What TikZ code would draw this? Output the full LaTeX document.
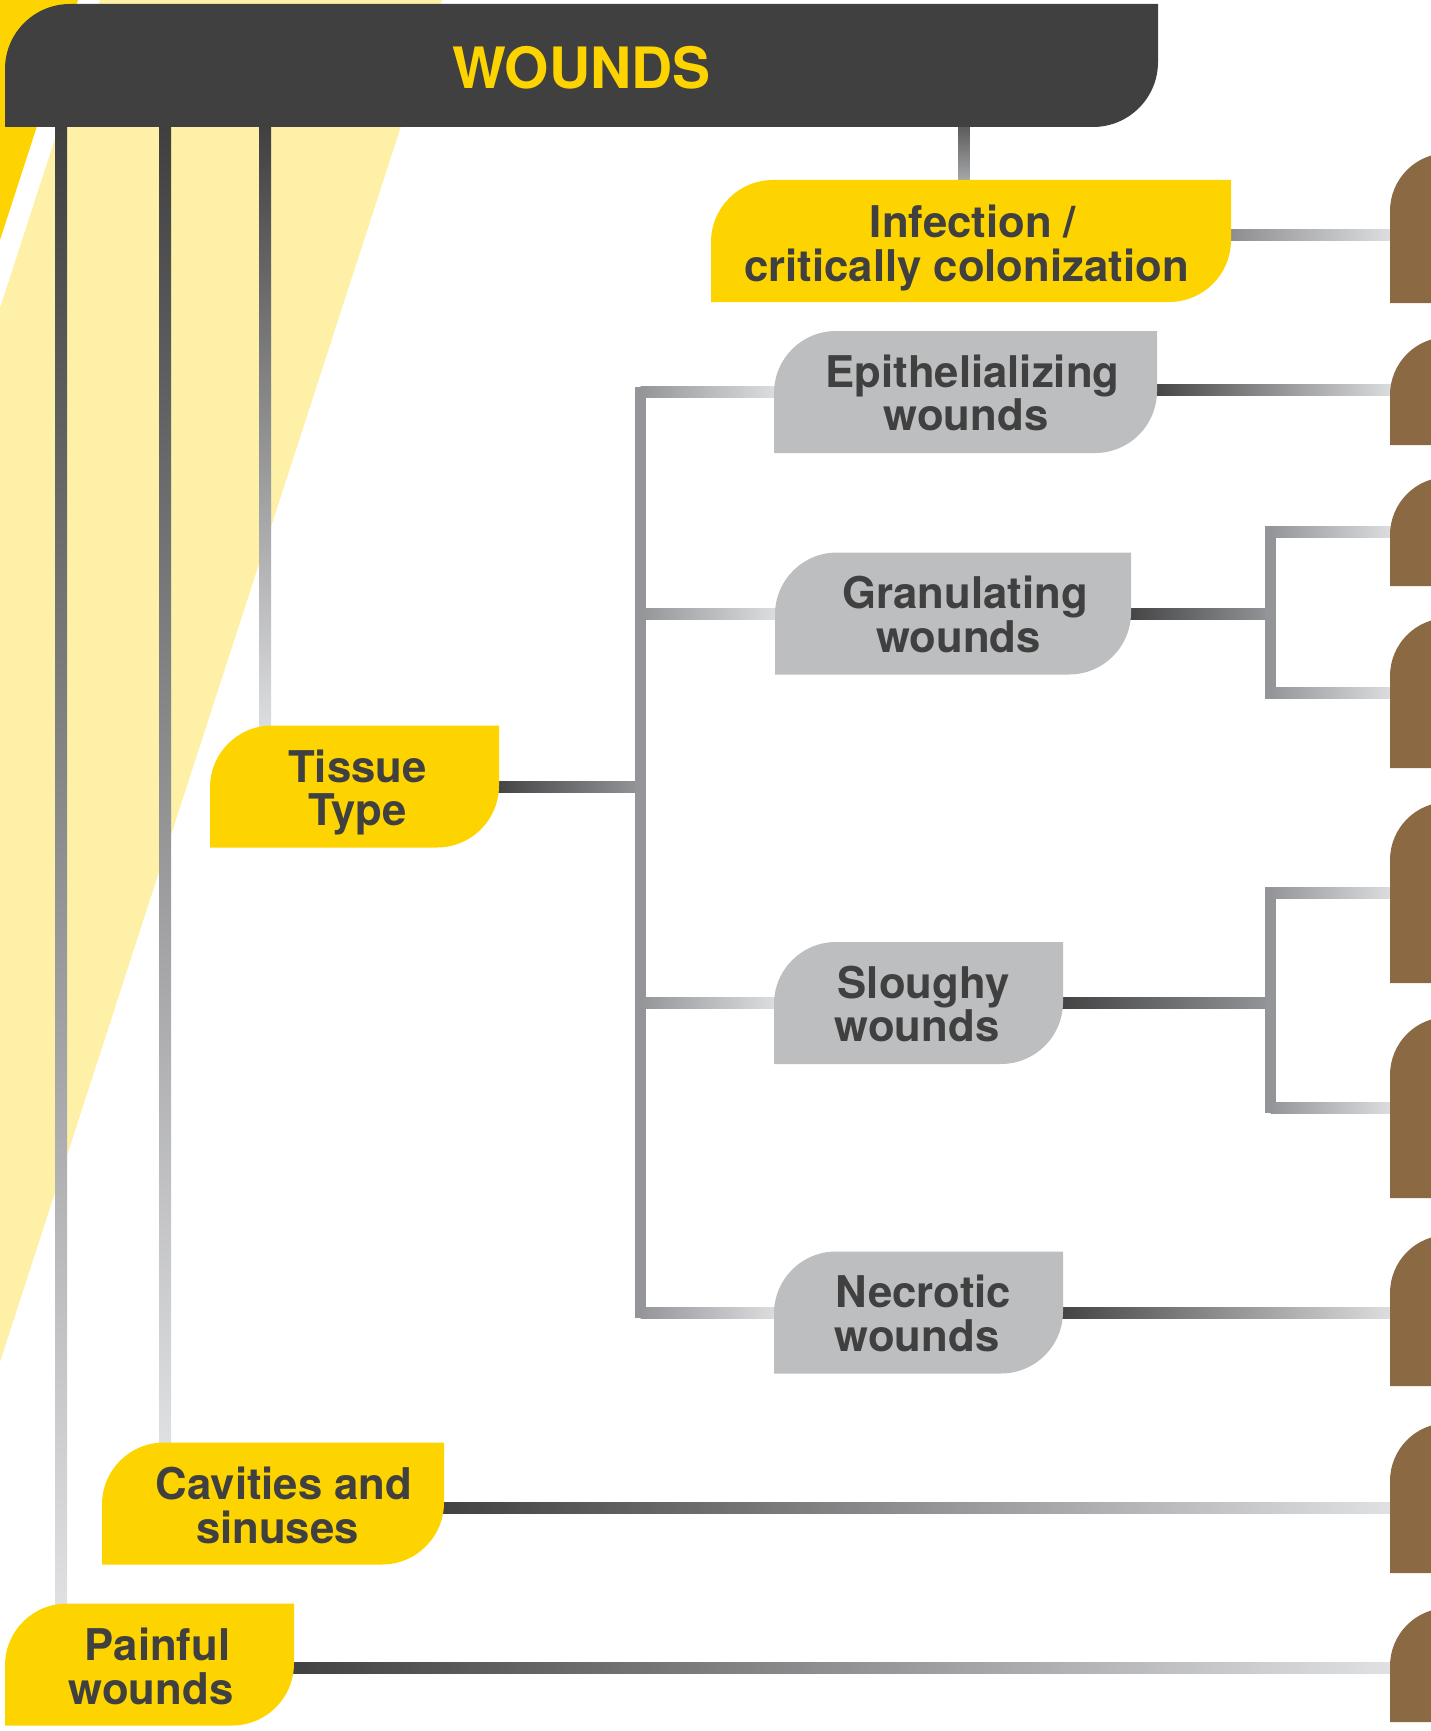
\documentclass[tikz,border=0pt]{standalone}
\usepackage{fontspec}
\setmainfont{TeX Gyre Heros}
\usetikzlibrary{arrows,shapes}
\pgfdeclarelayer{background}
\pgfdeclarelayer{wires}
\pgfdeclarelayer{fills}
\pgfsetlayers{background,wires,fills,main}
\definecolor{wyellow}{HTML}{FDD400}
\definecolor{wpale}{HTML}{FEF0A7}
\definecolor{wdark}{HTML}{404041}
\definecolor{wgray}{HTML}{BCBEC0}
\definecolor{wbrown}{HTML}{8B6943}
\definecolor{wmid}{HTML}{939598}
\definecolor{wlight}{HTML}{E1E2E4}
\tikzstyle{box}=[minimum height=122pt,inner sep=0pt,outer sep=0pt]
\tikzstyle{txt}=[inner sep=0pt,align=center,text=wdark,font=\fontsize{43.7}{43.5}\selectfont\bfseries]
\tikzstyle{tab}=[minimum width=160pt,inner sep=0pt,outer sep=0pt]
\tikzstyle{wire}=[left color=wdark,right color=wlight]
\tikzstyle{twig}=[left color=wmid,right color=wlight]
\tikzstyle{stem}=[left color=wdark,right color=wmid]
\tikzstyle{trunk}=[top color=wdark,bottom color=wlight]
% leaf shaped fill behind a node: name, colour, radius
\newcommand{\leaf}[3]{\fill[#2] (#1.south west) -- ([yshift=-#3]#1.north west)
    arc[start angle=180,end angle=90,radius=#3] -- (#1.north east)
    -- ([yshift=#3]#1.south east) arc[start angle=0,end angle=-90,radius=#3] -- cycle;}
% second lines sit a little to the left
\newcommand{\lft}{\hspace*{13pt}}

\begin{document}
\begin{tikzpicture}[x=1pt,y=-1pt]
    \useasboundingbox (0,0) rectangle (1431,1731);
    % Draw the wounds chart
    % First the yellow bands behind everything
    \begin{pgfonlayer}{background}
        \fill[wpale] (100,0) -- (442,0) -- (0,1362) -- (0,308) -- cycle;
        \fill[wyellow] (0,0) -- (78,0) -- (0,240) -- cycle;
    \end{pgfonlayer}
    % Then the boxes and their texts
    \node[box,minimum width=1153pt,minimum height=123pt] (wounds) at (581.5,65.5) {};
    \node[txt,text=wyellow,font=\fontsize{57}{60}\selectfont\bfseries] at ([yshift=-2pt]wounds) {WOUNDS};
    \foreach \pos/\name/\wide/\dx/\dy/\txt in {{(971,241)/inf/520/2/7/{Infection /\\critically colonization\lft}},
        {(354.5,786.5)/tis/289/3/6/{Tissue\\Type}}, {(273,1503.5)/cav/342/11/2/{Cavities and\\sinuses\lft}},
        {(149.5,1664.5)/pai/289/8/2/{Painful\\wounds\lft}}, {(965.5,392)/epi/383/7/1/{Epithelializing\\wounds\lft}},
        {(953,613.5)/gran/356/12/1/{Granulating\\wounds\lft}}, {(918.5,1003)/slo/289/5/1/{Sloughy\\wounds\lft}},
        {(918.5,1312.5)/nec/289/5/1/{Necrotic\\wounds\lft}}} {
        \node[box,minimum width=\wide] (\name) at \pos {};
        \node[txt] at ([xshift=\dx pt,yshift=-\dy pt]\name) {\txt};
    }
    % Brown tabs on the right edge
    \foreach \mid/\ht/\name in {228/150/t1, 391/108/t2, 531.5/109/t3, 693/150/t4, 892.5/181/t5,
        1107.5/181/t6, 1310.5/151/t7, 1498/150/t8, 1665/114/t9}
        \node[tab,minimum height=\ht] (\name) at (1470,\mid) {};
    \begin{pgfonlayer}{fills}
        \leaf{wounds}{wdark}{65pt}
        \foreach \name in {inf,tis,cav,pai}
            {\leaf{\name}{wyellow}{62pt}}
        \foreach \name in {epi,gran,slo,nec}
            {\leaf{\name}{wgray}{62pt}}
        \foreach \i in {1,...,9}
            {\leaf{t\i}{wbrown}{58pt}}
    \end{pgfonlayer}
    % Connect boxes with the shaded bars
    \begin{pgfonlayer}{wires}
        \coordinate (c1) at (61,0);
        \coordinate (c2) at (165,0);
        \coordinate (c3) at (265,0);
        \coordinate (c4) at (964,0);
        \coordinate (tb) at (640.5,0);
        \coordinate (rb) at (1270.5,0);
        \foreach \c/\b in {c1/pai, c2/cav, c3/tis}
            \shade[trunk] ([xshift=-6pt]wounds.south -| \c) rectangle ([xshift=6pt,yshift=-20pt]\b.north -| \c);
        \shade[top color=wdark!85,bottom color=wmid!70] ([xshift=-5.5pt]wounds.south -| c4) rectangle ([xshift=5.5pt,yshift=-10pt]inf.north -| c4);
        \coordinate (s) at ([yshift=6pt]inf.east);
        \shade[left color=wdark!55!wlight,right color=wlight] ([xshift=-10pt,yshift=5.5pt]s) rectangle ([xshift=10pt,yshift=-5.5pt]s -| t1.west);
        \foreach \a/\b/\dy in {epi/t2/2, nec/t7/0, cav/t8/-4, pai/t9/-3} {
            \coordinate (s) at ([yshift=\dy pt]\a.east);
            \shade[wire] ([xshift=-10pt,yshift=5.5pt]s) rectangle ([xshift=10pt,yshift=-5.5pt]s -| \b.west);
        }
        % tissue type bracket
        \shade[stem] ([xshift=-10pt,yshift=5.5pt]tis.east) rectangle ([yshift=-5.5pt]tis.east -| tb);
        \fill[wmid] ([xshift=-5.5pt,yshift=5.5pt]epi.west -| tb) rectangle ([xshift=5.5pt,yshift=-5.5pt]nec.west -| tb);
        \foreach \b in {epi,gran,slo,nec}
            \shade[twig] ([yshift=5.5pt]\b.west -| tb) rectangle ([xshift=10pt,yshift=-5.5pt]\b.west);
        % brackets to the tabs
        \foreach \a/\b/\c in {gran/t3/t4, slo/t5/t6} {
            \shade[stem] ([xshift=-10pt,yshift=5.5pt]\a.east) rectangle ([yshift=-5.5pt]\a.east -| rb);
            \fill[wmid] ([xshift=-5.5pt,yshift=5.5pt]\b.west -| rb) rectangle ([xshift=5.5pt,yshift=-5.5pt]\c.west -| rb);
            \foreach \t in {\b,\c}
                \shade[twig] ([yshift=5.5pt]\t.west -| rb) rectangle ([xshift=10pt,yshift=-5.5pt]\t.west);
        }
    \end{pgfonlayer}
\end{tikzpicture}
\end{document}
